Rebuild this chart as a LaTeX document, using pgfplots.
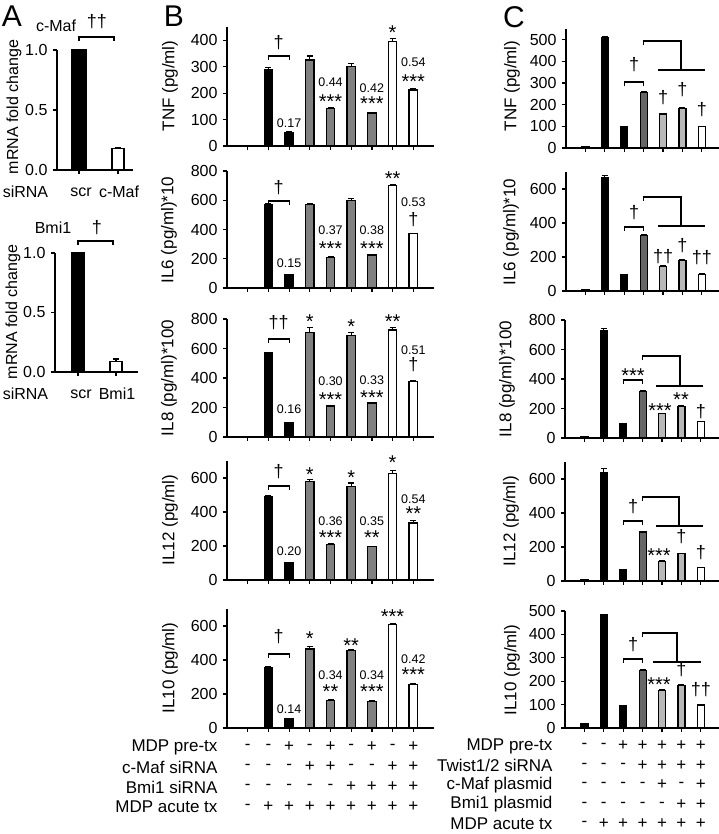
\documentclass[border=0pt]{standalone}
\usepackage{fontspec}
\setmainfont{Liberation Sans}
\usepackage{pgfplots}
\pgfplotsset{compat=1.18}
\definecolor{gB}{gray}{0.5}
\definecolor{gCd}{gray}{0.4}
\definecolor{gCl}{gray}{0.72}
\pgfplotsset{
  panel/.style={
    scale only axis, anchor=south west,
    axis x line*=bottom, axis y line*=left,
    axis line style={line width=1.6pt},
    every tick/.style={black, line width=1.2pt},
    major tick length=4pt, tick align=outside,
    ymin=0, clip=false,
    /pgf/number format/assume math mode=true,
    tick label style={font=\fontsize{16}{18}\selectfont},
    xticklabels={},
  },
  bb/.style={ybar, bar width=#1, bar shift=0pt, draw=black, line width=1.2pt,
    error bars/y dir=plus, error bars/y explicit,
    error bars/error bar style={line width=1.2pt, black},
    error bars/error mark options={rotate=90, line width=1.2pt, mark size=3pt, black}},
}
\tikzset{lab/.style={font=\fontsize{17}{19}\selectfont}}
\newcommand{\nm}[3]{\node[font=\fontsize{12.5}{14}\selectfont] at (#1,#2) {#3};}
\newcommand{\st}[3]{\node[font=\fontsize{20}{20}\selectfont] at (#1,{#2+4}) {#3};}
\newcommand{\dg}[3]{\node[font=\fontsize{18}{20}\selectfont] at (#1,#2) {#3};}
\newcommand{\brk}[3]{\draw[line width=1.2pt] (#1,{#3+4}) -- (#1,#3) -- (#2,#3) -- (#2,{#3+4});}
\newcommand{\bigbrk}[6]{\draw[line width=1.2pt] (#1,{#2+4}) -- (#1,#2) -- (#3,#2) -- (#3,#4); \draw[line width=1.2pt] (#5,#4) -- (#6,#4);}
\begin{document}
\fontsize{16}{18}\selectfont
\begin{tikzpicture}
\path[use as bounding box] (0,0) rectangle (719pt,834pt);

% ---------- Panel A ----------
\begin{axis}[panel, at={(57pt,664pt)}, width=76pt, height=120pt, xmin=-0.564, xmax=1.385, ymax=1,
  ytick={0,0.5,1}, xtick={0,1},
  yticklabel style={/pgf/number format/fixed, /pgf/number format/fixed zerofill, /pgf/number format/precision=1}]
\addplot[bb=14pt, fill=black] coordinates {(0,1) +- (0,0)};
\addplot[bb=12pt, fill=white] coordinates {(1,0.18) +- (0,0.01)};
\end{axis}
\begin{axis}[panel, at={(55pt,462pt)}, width=83pt, height=119pt, xmin=-0.605, xmax=1.579, ymax=1,
  ytick={0,0.5,1}, xtick={0,1},
  yticklabel style={/pgf/number format/fixed, /pgf/number format/fixed zerofill, /pgf/number format/precision=1}]
\addplot[bb=13pt, fill=black] coordinates {(0,1) +- (0,0)};
\addplot[bb=12pt, fill=white] coordinates {(1,0.09) +- (0,0.02)};
\end{axis}

% ---------- Panel B ----------
\begin{axis}[panel, at={(227pt,688pt)}, width=207pt, height=119pt, xmin=0, xmax=10, ymax=450,
  ytick={0,100,...,400}, xtick={1,...,9}]
\addplot[bb=8.5pt, fill=black] coordinates {(1,3) +- (0,0) (2,290) +- (0,6) (3,50) +- (0,3)};
\addplot[bb=8.5pt, fill=gB] coordinates {(4,325) +- (0,15) (5,143) +- (0,4) (6,300) +- (0,12) (7,125) +- (0,3)};
\addplot[bb=8.5pt, fill=white] coordinates {(8,395) +- (0,10) (9,212) +- (0,5)};
\end{axis}
\begin{axis}[panel, at={(227pt,546pt)}, width=207pt, height=117pt, xmin=0, xmax=10, ymax=800,
  ytick={0,200,...,800}, xtick={1,...,9}]
\addplot[bb=8.5pt, fill=black] coordinates {(1,5) +- (0,0) (2,570) +- (0,8) (3,90) +- (0,3)};
\addplot[bb=8.5pt, fill=gB] coordinates {(4,570) +- (0,10) (5,210) +- (0,5) (6,600) +- (0,12) (7,225) +- (0,4)};
\addplot[bb=8.5pt, fill=white] coordinates {(8,700) +- (0,6) (9,370) +- (0,5)};
\end{axis}
\begin{axis}[panel, at={(227pt,397pt)}, width=207pt, height=118pt, xmin=0, xmax=10, ymax=800,
  ytick={0,200,...,800}, xtick={1,...,9}]
\addplot[bb=8.5pt, fill=black] coordinates {(1,5) +- (0,0) (2,570) +- (0,5) (3,95) +- (0,3)};
\addplot[bb=8.5pt, fill=gB] coordinates {(4,710) +- (0,30) (5,210) +- (0,5) (6,690) +- (0,20) (7,230) +- (0,4)};
\addplot[bb=8.5pt, fill=white] coordinates {(8,725) +- (0,20) (9,375) +- (0,5)};
\end{axis}
\begin{axis}[panel, at={(227pt,254pt)}, width=207pt, height=119pt, xmin=0, xmax=10, ymax=700,
  ytick={0,200,400,600}, xtick={1,...,9}]
\addplot[bb=8.5pt, fill=black] coordinates {(1,5) +- (0,0) (2,490) +- (0,5) (3,100) +- (0,3)};
\addplot[bb=8.5pt, fill=gB] coordinates {(4,580) +- (0,10) (5,210) +- (0,3) (6,550) +- (0,20) (7,195) +- (0,3)};
\addplot[bb=8.5pt, fill=white] coordinates {(8,625) +- (0,20) (9,335) +- (0,15)};
\end{axis}
\begin{axis}[panel, at={(227pt,106pt)}, width=207pt, height=119pt, xmin=0, xmax=10, ymax=700,
  ytick={0,200,400,600}, xtick={1,...,9}]
\addplot[bb=8.5pt, fill=black] coordinates {(1,0) +- (0,0) (2,355) +- (0,5) (3,55) +- (0,2)};
\addplot[bb=8.5pt, fill=gB] coordinates {(4,465) +- (0,15) (5,160) +- (0,5) (6,455) +- (0,5) (7,158) +- (0,4)};
\addplot[bb=8.5pt, fill=white] coordinates {(8,608) +- (0,4) (9,258) +- (0,5)};
\end{axis}

% ---------- Panel C ----------
\begin{axis}[panel, at={(566pt,686pt)}, width=153pt, height=119pt, xmin=0, xmax=7.887, ymax=550,
  ytick={0,100,...,500}, xtick={1,...,7}]
\addplot[bb=7pt, fill=black] coordinates {(1,8) +- (0,0) (2,510) +- (0,5) (3,98) +- (0,0)};
\addplot[bb=7pt, fill=gCd] coordinates {(4,255) +- (0,5)};
\addplot[bb=7pt, fill=gCl] coordinates {(5,157) +- (0,3) (6,183) +- (0,4)};
\addplot[bb=7pt, fill=white] coordinates {(7,98) +- (0,3)};
\end{axis}
\begin{axis}[panel, at={(566pt,543pt)}, width=153pt, height=119pt, xmin=0, xmax=7.887, ymax=700,
  ytick={0,200,400,600}, xtick={1,...,7}]
\addplot[bb=7pt, fill=black] coordinates {(1,10) +- (0,0) (2,665) +- (0,15) (3,98) +- (0,0)};
\addplot[bb=7pt, fill=gCd] coordinates {(4,325) +- (0,5)};
\addplot[bb=7pt, fill=gCl] coordinates {(5,145) +- (0,3) (6,180) +- (0,3)};
\addplot[bb=7pt, fill=white] coordinates {(7,98) +- (0,3)};
\end{axis}
\begin{axis}[panel, at={(565pt,396pt)}, width=154pt, height=118pt, xmin=0, xmax=7.938, ymax=800,
  ytick={0,200,...,800}, xtick={1,...,7}]
\addplot[bb=7pt, fill=black] coordinates {(1,10) +- (0,0) (2,730) +- (0,15) (3,100) +- (0,0)};
\addplot[bb=7pt, fill=gCd] coordinates {(4,315) +- (0,8)};
\addplot[bb=7pt, fill=gCl] coordinates {(5,165) +- (0,3) (6,215) +- (0,3)};
\addplot[bb=7pt, fill=white] coordinates {(7,110) +- (0,3)};
\end{axis}
\begin{axis}[panel, at={(565pt,253pt)}, width=154pt, height=119pt, xmin=0, xmax=7.938, ymax=700,
  ytick={0,200,400,600}, xtick={1,...,7}]
\addplot[bb=7pt, fill=black] coordinates {(1,8) +- (0,0) (2,640) +- (0,20) (3,68) +- (0,0)};
\addplot[bb=7pt, fill=gCd] coordinates {(4,288) +- (0,5)};
\addplot[bb=7pt, fill=gCl] coordinates {(5,115) +- (0,3) (6,160) +- (0,3)};
\addplot[bb=7pt, fill=white] coordinates {(7,78) +- (0,3)};
\end{axis}
\begin{axis}[panel, at={(565pt,106pt)}, width=154pt, height=117pt, xmin=0, xmax=7.938, ymax=500,
  ytick={0,100,...,500}, xtick={1,...,7}]
\addplot[bb=7pt, fill=black] coordinates {(1,20) +- (0,0) (2,485) +- (0,0) (3,95) +- (0,0)};
\addplot[bb=7pt, fill=gCd] coordinates {(4,245) +- (0,4)};
\addplot[bb=7pt, fill=gCl] coordinates {(5,160) +- (0,3) (6,183) +- (0,3)};
\addplot[bb=7pt, fill=white] coordinates {(7,98) +- (0,3)};
\end{axis}

% ---------- annotations (pixel coordinates, y downward) ----------
\begin{scope}[x=1pt,y=-1pt,shift={(0pt,834pt)}]
% panel letters
\node[font=\fontsize{30}{32}\selectfont] at (12,16) {A};
\node[font=\fontsize{30}{32}\selectfont] at (174,16) {B};
\node[font=\fontsize{30}{32}\selectfont] at (514,17) {C};
% A labels
\node[rotate=90] at (14,107) {mRNA fold change};
\node[rotate=90] at (13,312) {mRNA fold change};
\node at (56,26) {c-Maf}; \dg{97}{22}{††} \brk{79}{114}{37}
\node at (53,228) {Bmi1}; \dg{97}{228}{†} \brk{78}{113}{241}
\node at (25.5,192) {siRNA}; \node at (81,192) {scr}; \node at (119,192) {c-Maf};
\node at (25.5,394) {siRNA}; \node at (81,394) {scr}; \node at (117,394) {Bmi1};
% B ylabels
\node[lab,rotate=90] at (170,86) {TNF (pg/ml)};
\node[lab,rotate=90] at (169,230) {IL6 (pg/ml)*10};
\node[lab,rotate=90] at (169,378) {IL8 (pg/ml)*100};
\node[lab,rotate=90] at (170,520) {IL12 (pg/ml)};
\node[lab,rotate=90] at (170,668) {IL10 (pg/ml)};
% B TNF
\dg{278.7}{43}{†} \brk{268.4}{289.1}{56}
\nm{289.1}{123}{0.17}
\nm{330.5}{82}{0.44} \st{330.5}{98}{***}
\nm{371.9}{88}{0.42} \st{371.9}{100}{***}
\st{392.6}{29}{*}
\nm{413.3}{62}{0.54} \st{413.3}{78}{***}
% B IL6
\dg{278.7}{188}{†} \brk{268.4}{289.1}{201}
\nm{289.1}{263}{0.15}
\nm{330.5}{230}{0.37} \st{330.5}{245}{***}
\nm{371.9}{230}{0.38} \st{371.9}{245}{***}
\st{392.6}{175}{**}
\nm{413.3}{202}{0.53} \dg{413.3}{220}{†}
% B IL8
\dg{278.7}{323}{††} \brk{268.4}{289.1}{339}
\st{309.8}{318}{*} \st{351.2}{323}{*} \st{392.6}{318}{**}
\nm{413.3}{350}{0.51} \dg{413.3}{365}{†}
\nm{330.5}{381}{0.30} \st{330.5}{396}{***}
\nm{371.9}{380}{0.33} \st{371.9}{394}{***}
\nm{289.1}{409}{0.16}
% B IL12
\dg{278.7}{472}{†} \brk{268.4}{289.1}{486}
\st{309.8}{471}{*} \st{351.2}{474}{*} \st{392.6}{459}{*}
\nm{413.3}{499}{0.54} \st{413.3}{510}{**}
\nm{330.5}{521}{0.36} \st{330.5}{534}{***}
\nm{371.9}{521}{0.35} \st{371.9}{534}{**}
\nm{289.1}{551}{0.20}
% B IL10
\dg{278.7}{637}{†} \brk{268.4}{289.1}{654}
\st{309.8}{635}{*} \st{351.2}{642}{**} \st{392.6}{613}{***}
\nm{330.5}{675}{0.34} \st{330.5}{688}{**}
\nm{371.9}{675}{0.34} \st{371.9}{688}{***}
\nm{413.3}{659}{0.42} \st{413.3}{671}{***}
\nm{289.1}{709}{0.14}
% B table
\node[lab,anchor=east] at (223,747) {MDP pre-tx};
\node[lab,anchor=east] at (223,767) {c-Maf siRNA};
\node[lab,anchor=east] at (223,787) {Bmi1 siRNA};
\node[lab,anchor=east] at (223,807) {MDP acute tx};
\foreach \s [count=\i] in {-,-,+,-,+,-,+,-,+} \node[lab] at ({227+20.7*\i},747) {\s};
\foreach \s [count=\i] in {-,-,-,+,+,-,-,+,+} \node[lab] at ({227+20.7*\i},767) {\s};
\foreach \s [count=\i] in {-,-,-,-,-,+,+,+,+} \node[lab] at ({227+20.7*\i},787) {\s};
\foreach \s [count=\i] in {-,+,+,+,+,+,+,+,+} \node[lab] at ({227+20.7*\i},807) {\s};
% C ylabels
\node[lab,rotate=90] at (512,86) {TNF (pg/ml)};
\node[lab,rotate=90] at (511,232) {IL6 (pg/ml)*10};
\node[lab,rotate=90] at (507,379) {IL8 (pg/ml)*100};
\node[lab,rotate=90] at (511,521) {IL12 (pg/ml)};
\node[lab,rotate=90] at (512,670) {IL10 (pg/ml)};
% C TNF
\dg{634}{65}{†} \brk{624.2}{643.6}{82}
\bigbrk{643.6}{41}{681}{70}{658}{705}
\dg{663}{98}{†} \dg{682.4}{90}{†} \dg{701.8}{110}{†}
% C IL6
\dg{634}{213}{†} \brk{624.2}{643.6}{227}
\bigbrk{643.6}{197}{681}{226}{658}{705}
\dg{663}{257}{††} \dg{682.4}{246}{†} \dg{701.8}{258}{††}
% C IL8
\st{633}{372}{***} \brk{623.2}{642.6}{380}
\bigbrk{642.6}{356}{680}{386}{656}{703}
\st{660}{407}{***} \st{681}{396}{**} \dg{700.8}{412}{†}
% C IL12
\dg{633}{507}{†} \brk{623.2}{642.6}{521}
\bigbrk{642.6}{497}{679}{526}{656}{703}
\st{659}{552}{***} \dg{681.4}{537}{†} \dg{700.8}{553}{†}
% C IL10
\dg{633}{645}{†} \brk{623.2}{642.6}{659}
\bigbrk{642.6}{633}{677}{662}{653}{701}
\st{659}{681}{***} \dg{681.4}{670}{†} \dg{700.8}{690}{††}
% C table
\node[lab,anchor=east] at (558,746) {MDP pre-tx};
\node[lab,anchor=east] at (558,765.5) {Twist1/2 siRNA};
\node[lab,anchor=east] at (558,785) {c-Maf plasmid};
\node[lab,anchor=east] at (558,804.5) {Bmi1 plasmid};
\node[lab,anchor=east] at (558,824) {MDP acute tx};
\foreach \s [count=\i] in {-,-,+,+,+,+,+} \node[lab] at ({565+19.4*\i},746) {\s};
\foreach \s [count=\i] in {-,-,-,+,+,+,+} \node[lab] at ({565+19.4*\i},765.5) {\s};
\foreach \s [count=\i] in {-,-,-,-,+,-,+} \node[lab] at ({565+19.4*\i},785) {\s};
\foreach \s [count=\i] in {-,-,-,-,-,+,+} \node[lab] at ({565+19.4*\i},804.5) {\s};
\foreach \s [count=\i] in {-,+,+,+,+,+,+} \node[lab] at ({565+19.4*\i},824) {\s};
\end{scope}
\end{tikzpicture}
\end{document}
